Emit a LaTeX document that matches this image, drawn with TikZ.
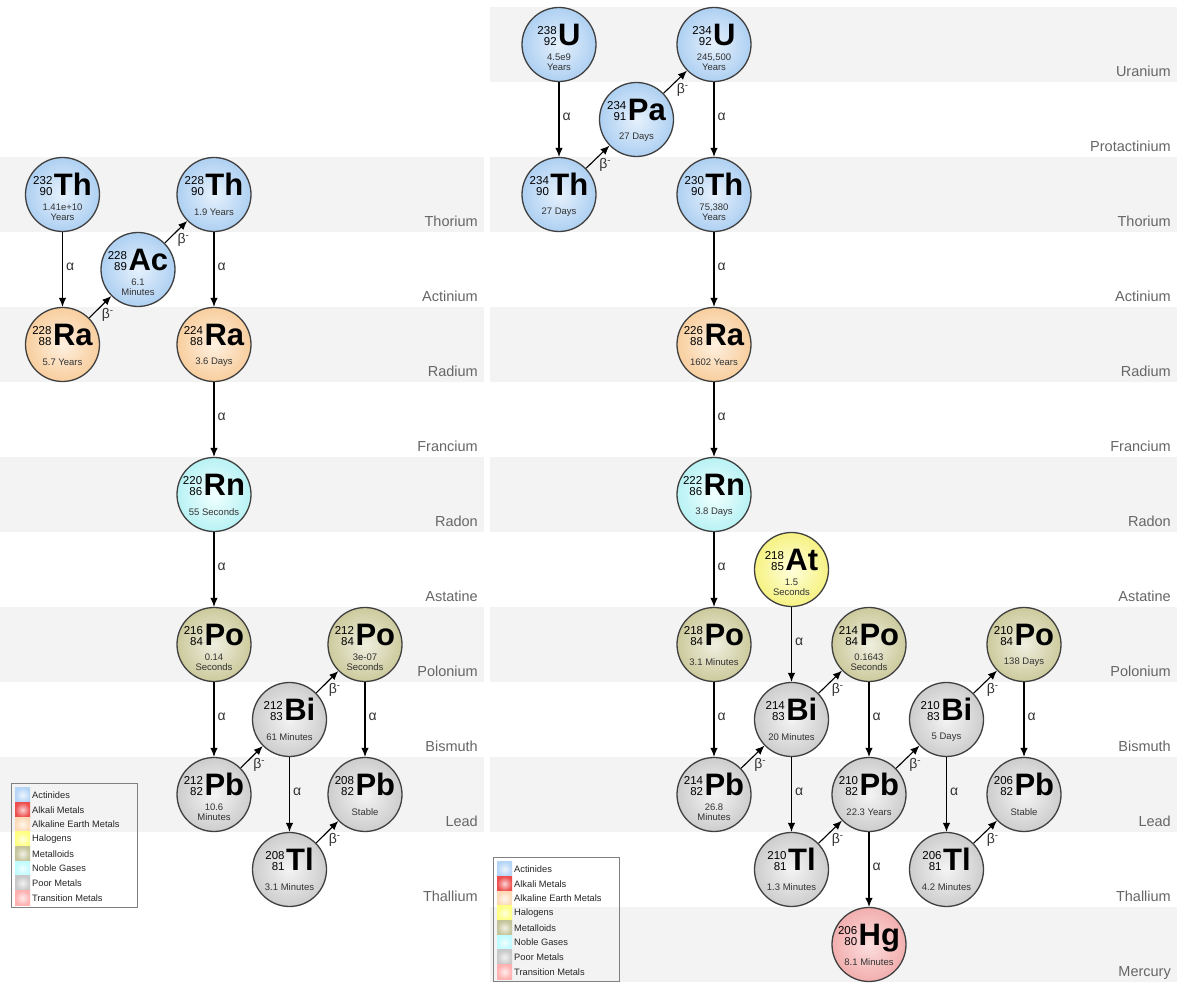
\documentclass[tikz,border=0pt]{standalone}
\usepackage{fontspec}
\setmainfont{Liberation Sans}
\usetikzlibrary{arrows.meta}
\usetikzlibrary{calc}

\definecolor{bandgray}{HTML}{F3F3F3}
\definecolor{actIn}{HTML}{E6F1FC}
\definecolor{actOut}{HTML}{AED0F2}
\definecolor{alkIn}{HTML}{FEF0E0}
\definecolor{alkOut}{HTML}{F8CE9E}
\definecolor{nobIn}{HTML}{F2FFFF}
\definecolor{nobOut}{HTML}{B8F2F4}
\definecolor{metIn}{HTML}{EFEFE0}
\definecolor{metOut}{HTML}{CCCA9C}
\definecolor{poorIn}{HTML}{F4F4F4}
\definecolor{poorOut}{HTML}{CDCDCD}
\definecolor{halIn}{HTML}{FFFFDD}
\definecolor{halOut}{HTML}{F6F282}
\definecolor{trIn}{HTML}{FCDEDE}
\definecolor{trOut}{HTML}{F2AEAE}
\definecolor{legAct}{HTML}{B5D5F7}
\definecolor{legAlk}{HTML}{EE4E4E}
\definecolor{legAlkE}{HTML}{FCD9B6}
\definecolor{legHal}{HTML}{FFFF80}
\definecolor{legMet}{HTML}{C4C49A}
\definecolor{legNob}{HTML}{BFFBFF}
\definecolor{legPoor}{HTML}{C8C8C8}
\definecolor{legTr}{HTML}{FFB0B0}

\tikzset{
  nuclide/.style={circle, draw=black!75, line width=1.3pt, minimum size=74pt, inner sep=0pt},
  actinide/.style={inner color=actIn, outer color=actOut},
  alkearth/.style={inner color=alkIn, outer color=alkOut},
  noble/.style={inner color=nobIn, outer color=nobOut},
  metalloid/.style={inner color=metIn, outer color=metOut},
  poor/.style={inner color=poorIn, outer color=poorOut},
  halogen/.style={inner color=halIn, outer color=halOut},
  transition/.style={inner color=trIn, outer color=trOut},
  symbolline/.style={anchor=base, inner sep=0pt},
  halflife/.style={align=center, inner sep=0pt, font=\fontsize{9.5}{10}\selectfont, text=black!80},
  decay/.style={->, line width=1.1pt},
  alphalabel/.style={right, inner sep=3pt, yshift=3pt, font=\fontsize{14}{14}\selectfont, text=black!80},
  betalabel/.style={below right, inner sep=1pt, font=\fontsize{14}{14}\selectfont, text=black!80},
  bandlabel/.style={anchor=base east, inner sep=0pt, font=\fontsize{14.5}{14.5}\selectfont, text=black!60},
  legendbox/.style={draw=black!50, line width=0.8pt},
  legendtext/.style={anchor=west, inner sep=0pt, font=\fontsize{9.3}{9.3}\selectfont, text=black!85},
  >={Latex[length=9pt,width=7.5pt]}
}

\newcommand{\DCIsotope}[3]{%
  {\fontsize{11.5}{10}\selectfont\begin{tabular}[b]{@{}r@{}}#1\\#2\end{tabular}}%
  \kern1.5pt{\fontsize{31}{31}\selectfont\bfseries #3}%
}
\newcommand{\DCNuclide}[7]{
  \node[nuclide,#7] (#1) at #2 {};
  \node[symbolline] (#1-sym) at ($#2+(0,-1)$) {\DCIsotope{#3}{#4}{#5}};
  \node[halflife] (#1-life) at ($#2+(0,-17.5)$) {#6};
}
\newcommand{\DCAlpha}[2]{
  \draw[decay] (#1) -- node[alphalabel] (#1-#2) {α} (#2);
}
\newcommand{\DCBeta}[2]{
  \draw[decay] (#1) -- node[betalabel] (#1-#2) {β\textsuperscript{-}} (#2);
}
\newcommand{\DCBand}[6]{
  \fill[#6] (#2,#4-37.5) rectangle (#3,#4+37.5);
  \node[bandlabel] (#1) at (#3-6,#4-32.5) {#5};
}
\newcommand{\DCLegendItem}[5]{
  \coordinate (#1) at ($#2+(4,{-12-14.7*#3})$);
  \shade[inner color=#4!25!white, outer color=#4] ($(#1)+(0,-7.35)$) rectangle ($(#1)+(15,7.35)$);
  \node[legendtext] (#1-text) at ($(#1)+(17,0)$) {#5};
}
\newcommand{\DCLegend}[2]{
  \draw[legendbox] #2 rectangle ($#2+(126,-124)$);
  \DCLegendItem{#1-act}{#2}{0}{legAct}{Actinides}
  \DCLegendItem{#1-alk}{#2}{1}{legAlk}{Alkali Metals}
  \DCLegendItem{#1-alke}{#2}{2}{legAlkE}{Alkaline Earth Metals}
  \DCLegendItem{#1-hal}{#2}{3}{legHal}{Halogens}
  \DCLegendItem{#1-met}{#2}{4}{legMet}{Metalloids}
  \DCLegendItem{#1-nob}{#2}{5}{legNob}{Noble Gases}
  \DCLegendItem{#1-poor}{#2}{6}{legPoor}{Poor Metals}
  \DCLegendItem{#1-tr}{#2}{7}{legTr}{Transition Metals}
}

\begin{document}
\begin{tikzpicture}[x=1pt,y=1pt]
\useasboundingbox (0,0) rectangle (1181,985);

\DCBand{lTh}{0}{484}{790.5}{Thorium}{bandgray}
\DCBand{lAc}{0}{484}{715.5}{Actinium}{white}
\DCBand{lRa}{0}{484}{640.5}{Radium}{bandgray}
\DCBand{lFr}{0}{484}{565.5}{Francium}{white}
\DCBand{lRn}{0}{484}{490.5}{Radon}{bandgray}
\DCBand{lAt}{0}{484}{415.5}{Astatine}{white}
\DCBand{lPo}{0}{484}{340.5}{Polonium}{bandgray}
\DCBand{lBi}{0}{484}{265.5}{Bismuth}{white}
\DCBand{lPb}{0}{484}{190.5}{Lead}{bandgray}
\DCBand{lTl}{0}{484}{115.5}{Thallium}{white}

\DCBand{rU}{490}{1177}{940.5}{Uranium}{bandgray}
\DCBand{rPa}{490}{1177}{865.5}{Protactinium}{white}
\DCBand{rTh}{490}{1177}{790.5}{Thorium}{bandgray}
\DCBand{rAc}{490}{1177}{715.5}{Actinium}{white}
\DCBand{rRa}{490}{1177}{640.5}{Radium}{bandgray}
\DCBand{rFr}{490}{1177}{565.5}{Francium}{white}
\DCBand{rRn}{490}{1177}{490.5}{Radon}{bandgray}
\DCBand{rAt}{490}{1177}{415.5}{Astatine}{white}
\DCBand{rPo}{490}{1177}{340.5}{Polonium}{bandgray}
\DCBand{rBi}{490}{1177}{265.5}{Bismuth}{white}
\DCBand{rPb}{490}{1177}{190.5}{Lead}{bandgray}
\DCBand{rTl}{490}{1177}{115.5}{Thallium}{white}
\DCBand{rHg}{490}{1177}{40.5}{Mercury}{bandgray}

\DCNuclide{th232}{(62.5,790.5)}{232}{90}{Th}{1.41e+10\\Years}{actinide}
\DCNuclide{ra228}{(62.5,640.5)}{228}{88}{Ra}{5.7 Years}{alkearth}
\DCNuclide{ac228}{(138,715.5)}{228}{89}{Ac}{6.1\\Minutes}{actinide}
\DCNuclide{th228}{(214,790.5)}{228}{90}{Th}{1.9 Years}{actinide}
\DCNuclide{ra224}{(214,640.5)}{224}{88}{Ra}{3.6 Days}{alkearth}
\DCNuclide{rn220}{(214,490.5)}{220}{86}{Rn}{55 Seconds}{noble}
\DCNuclide{po216}{(214,340.5)}{216}{84}{Po}{0.14\\Seconds}{metalloid}
\DCNuclide{pb212}{(214,190.5)}{212}{82}{Pb}{10.6\\Minutes}{poor}
\DCNuclide{bi212}{(289.5,265.5)}{212}{83}{Bi}{61 Minutes}{poor}
\DCNuclide{po212}{(365,340.5)}{212}{84}{Po}{3e-07\\Seconds}{metalloid}
\DCNuclide{pb208}{(365,190.5)}{208}{82}{Pb}{Stable}{poor}
\DCNuclide{tl208}{(289.5,115.5)}{208}{81}{Tl}{3.1 Minutes}{poor}

\DCNuclide{u238}{(559,940.5)}{238}{92}{U}{4.5e9\\Years}{actinide}
\DCNuclide{th234}{(559,790.5)}{234}{90}{Th}{27 Days}{actinide}
\DCNuclide{pa234}{(636.5,865.5)}{234}{91}{Pa}{27 Days}{actinide}
\DCNuclide{u234}{(714,940.5)}{234}{92}{U}{245,500\\Years}{actinide}
\DCNuclide{th230}{(714,790.5)}{230}{90}{Th}{75,380\\Years}{actinide}
\DCNuclide{ra226}{(714,640.5)}{226}{88}{Ra}{1602 Years}{alkearth}
\DCNuclide{rn222}{(714,490.5)}{222}{86}{Rn}{3.8 Days}{noble}
\DCNuclide{po218}{(714,340.5)}{218}{84}{Po}{3.1 Minutes}{metalloid}
\DCNuclide{at218}{(791.5,415.5)}{218}{85}{At}{1.5\\Seconds}{halogen}
\DCNuclide{pb214}{(714,190.5)}{214}{82}{Pb}{26.8\\Minutes}{poor}
\DCNuclide{bi214}{(791.5,265.5)}{214}{83}{Bi}{20 Minutes}{poor}
\DCNuclide{po214}{(869,340.5)}{214}{84}{Po}{0.1643\\Seconds}{metalloid}
\DCNuclide{tl210}{(791.5,115.5)}{210}{81}{Tl}{1.3 Minutes}{poor}
\DCNuclide{pb210}{(869,190.5)}{210}{82}{Pb}{22.3 Years}{poor}
\DCNuclide{hg206}{(869,40.5)}{206}{80}{Hg}{8.1 Minutes}{transition}
\DCNuclide{bi210}{(946.5,265.5)}{210}{83}{Bi}{5 Days}{poor}
\DCNuclide{po210}{(1024,340.5)}{210}{84}{Po}{138 Days}{metalloid}
\DCNuclide{tl206}{(946.5,115.5)}{206}{81}{Tl}{4.2 Minutes}{poor}
\DCNuclide{pb206}{(1024,190.5)}{206}{82}{Pb}{Stable}{poor}

\DCAlpha{th232}{ra228}
\DCBeta{ra228}{ac228}
\DCBeta{ac228}{th228}
\DCAlpha{th228}{ra224}
\DCAlpha{ra224}{rn220}
\DCAlpha{rn220}{po216}
\DCAlpha{po216}{pb212}
\DCBeta{pb212}{bi212}
\DCBeta{bi212}{po212}
\DCAlpha{bi212}{tl208}
\DCAlpha{po212}{pb208}
\DCBeta{tl208}{pb208}

\DCAlpha{u238}{th234}
\DCBeta{th234}{pa234}
\DCBeta{pa234}{u234}
\DCAlpha{u234}{th230}
\DCAlpha{th230}{ra226}
\DCAlpha{ra226}{rn222}
\DCAlpha{rn222}{po218}
\DCAlpha{po218}{pb214}
\DCAlpha{at218}{bi214}
\DCBeta{pb214}{bi214}
\DCBeta{bi214}{po214}
\DCAlpha{bi214}{tl210}
\DCAlpha{po214}{pb210}
\DCBeta{tl210}{pb210}
\DCAlpha{pb210}{hg206}
\DCBeta{pb210}{bi210}
\DCBeta{bi210}{po210}
\DCAlpha{bi210}{tl206}
\DCAlpha{po210}{pb206}
\DCBeta{tl206}{pb206}

\DCLegend{legL}{(11,202)}
\DCLegend{legR}{(493,128)}
\end{tikzpicture}
\end{document}
